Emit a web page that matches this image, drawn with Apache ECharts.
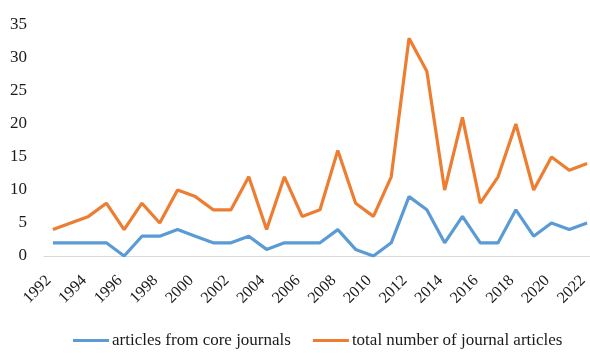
<!DOCTYPE html>
<html>
<head>
<meta charset="utf-8">
<script src="https://cdn.jsdelivr.net/npm/echarts@6/dist/echarts.min.js"></script>
<style>html,body{margin:0;padding:0;background:#fff}#c{width:590px;height:353px}</style>
</head>
<body>
<div id="c"></div>
<script>
var years = ['1992','1993','1994','1995','1996','1997','1998','1999','2000','2001','2002','2003','2004','2005','2006','2007','2008','2009','2010','2011','2012','2013','2014','2015','2016','2017','2018','2019','2020','2021','2022'];
var coreArticles = [2,2,2,2,0,3,3,4,3,2,2,3,1,2,2,2,4,1,0,2,9,7,2,6,2,2,7,3,5,4,5];
var totalArticles = [4,5,6,8,4,8,5,10,9,7,7,12,4,12,6,7,16,8,6,12,33,28,10,21,8,12,20,10,15,13,14];
var seriesNames = ['articles from core journals','total number of journal articles'];

var font = 'Liberation Serif, Times New Roman, serif';
var chart = echarts.init(document.getElementById('c'));
chart.setOption({
  animation: false,
  grid: {left: 44, right: -6, top: 25, bottom: 97, outerBoundsMode: 'none', containLabel: false},
  legend: {
    left: 68, top: 327, itemWidth: 36, itemHeight: 3, itemGap: 22,
    icon: 'rect',
    textStyle: {fontFamily: font, fontSize: 17, color: '#1a1a1a', padding: [0,0,0,-2]},
    data: seriesNames
  },
  xAxis: {
    type: 'category', data: years, boundaryGap: true,
    axisLine: {lineStyle: {color: '#d9d9d9', width: 1}},
    axisTick: {show: false},
    axisLabel: {interval: 1, rotate: 45, margin: 18, padding: [0,6,0,0], fontFamily: font, fontSize: 16, color: '#1a1a1a'}
  },
  yAxis: {
    type: 'value', min: 0, max: 35, interval: 5,
    axisLine: {show: false}, axisTick: {show: false}, splitLine: {show: false},
    axisLabel: {margin: 17, fontFamily: font, fontSize: 17, color: '#1a1a1a', padding: [0,0,14,0]}
  },
  series: [
    {name: seriesNames[0], type: 'line', data: coreArticles, symbol: 'none', lineStyle: {width: 3.2, color: '#5b9bd5'}, itemStyle: {color: '#5b9bd5'}},
    {name: seriesNames[1], type: 'line', data: totalArticles, symbol: 'none', lineStyle: {width: 3.2, color: '#ed7d31'}, itemStyle: {color: '#ed7d31'}}
  ]
});
</script>
</body>
</html>
